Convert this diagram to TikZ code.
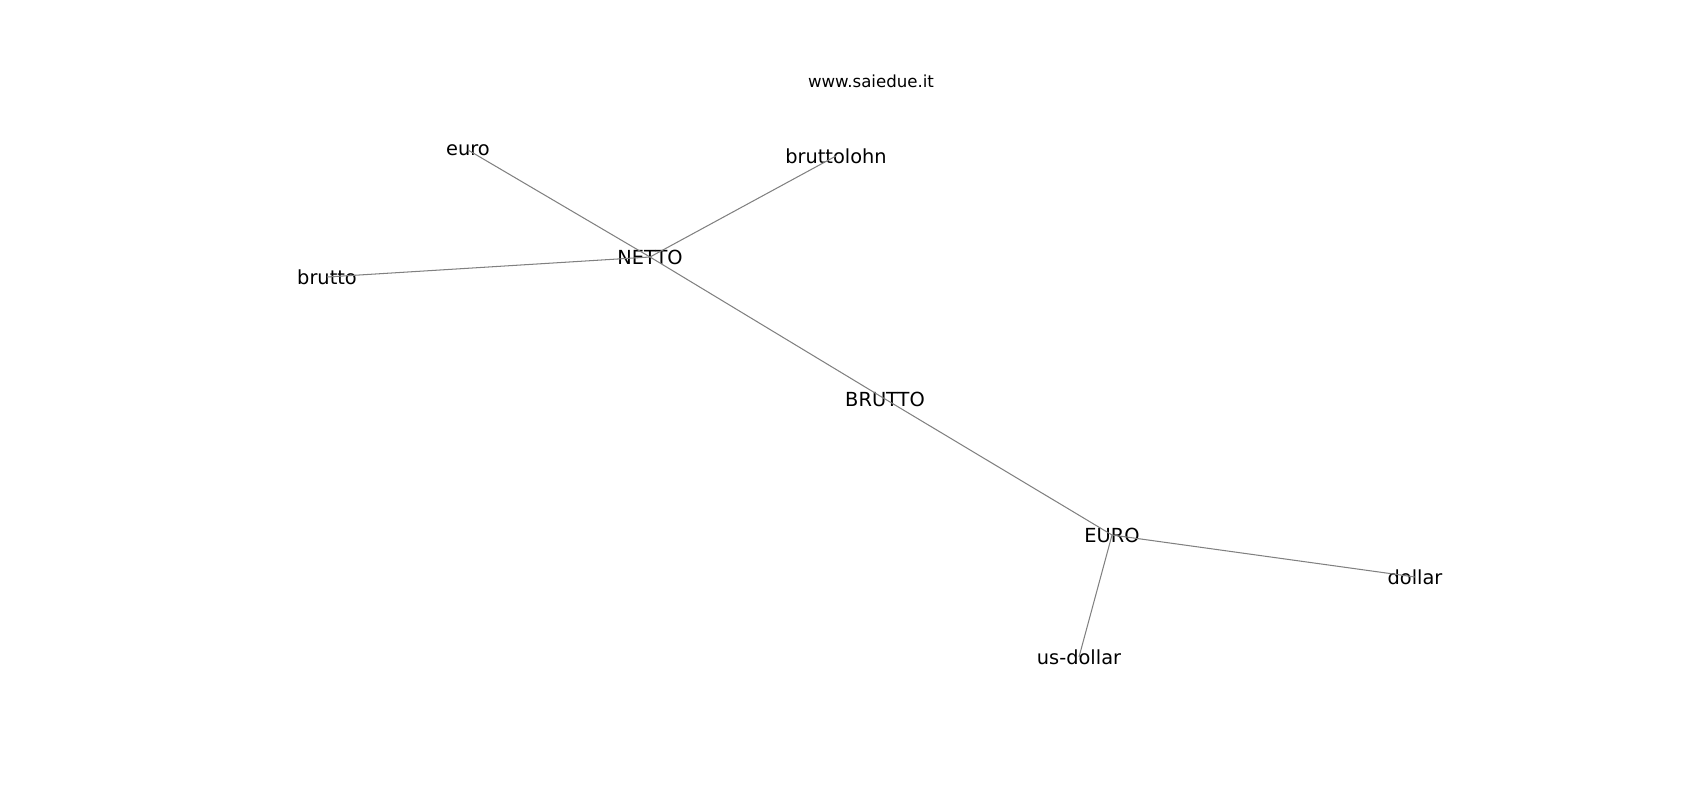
\documentclass[tikz,border=0pt]{standalone}
\usepackage{fontspec}
\setmainfont{DejaVu Sans}
\begin{document}
\begin{tikzpicture}[x=0.01in, y=-0.01in, nodes={inner sep=0pt, font=\fontsize{14}{17}\selectfont}]
	\useasboundingbox (0,0) rectangle (1700,800);
	\node[font=\fontsize{12}{14}\selectfont] (title) at (871, 81) {www.saiedue.it};
	\node (euro) at (468, 150) {euro};
	\node (bruttolohn) at (836, 156) {bruttolohn};
	\node (NETTO) at (650, 257) {NETTO};
	\node (brutto) at (327, 277) {brutto};
	\node (BRUTTO) at (885, 399) {BRUTTO};
	\node (EURO) at (1112, 535) {EURO};
	\node (dollar) at (1415, 577) {dollar};
	\node (usdollar) at (1079, 657) {us-dollar};
	
	\draw[gray, line width=0.75pt] (euro.center) -- (NETTO.center);
	\draw[gray, line width=0.75pt] (bruttolohn.center) -- (NETTO.center);
	\draw[gray, line width=0.75pt] (brutto.center) -- (NETTO.center);
	\draw[gray, line width=0.75pt] (NETTO.center) -- (BRUTTO.center);
	\draw[gray, line width=0.75pt] (BRUTTO.center) -- (EURO.center);
	\draw[gray, line width=0.75pt] (EURO.center) -- (dollar.center);
	\draw[gray, line width=0.75pt] (EURO.center) -- (usdollar.center);
	\end{tikzpicture}
\end{document}
